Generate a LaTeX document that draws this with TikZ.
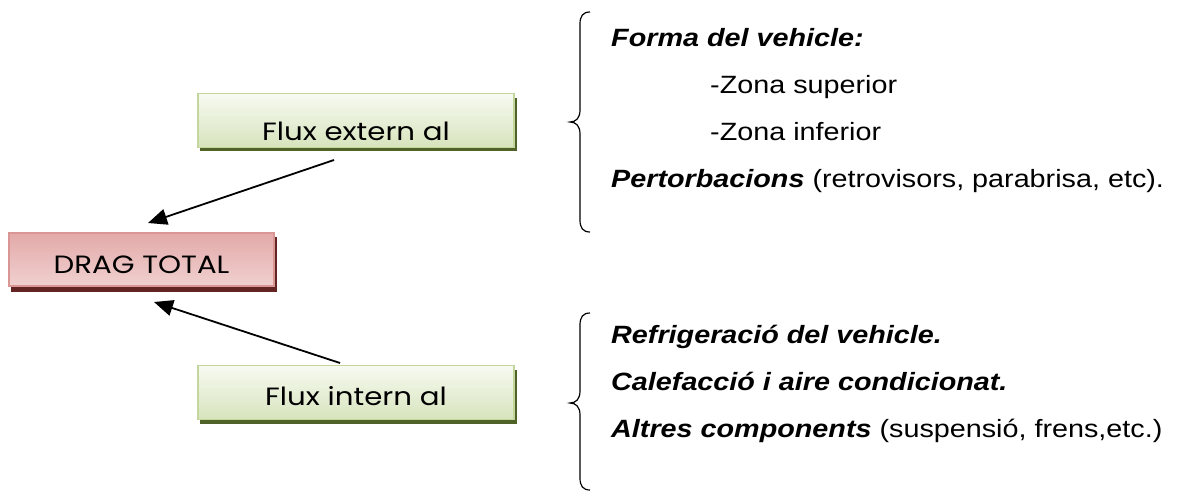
\documentclass[tikz,border=0pt]{standalone}
\usepackage{fontspec}
\setmainfont{Liberation Sans}[FakeStretch=1.15]
\newfontfamily\boxfont{Poppins}[FakeStretch=1.17]
\usetikzlibrary{arrows.meta}
\definecolor{grnborder}{HTML}{C3D69B}
\definecolor{grntop}{HTML}{F7FAF1}
\definecolor{grnbot}{HTML}{D7E4BD}
\definecolor{grnshadow}{HTML}{4F6228}
\definecolor{pinkborder}{HTML}{D99694}
\definecolor{pinktop}{HTML}{E2AAA9}
\definecolor{pinkbot}{HTML}{F0D0CF}
\definecolor{pinkshadow}{HTML}{632523}
\tikzset{
  greenbox/.style={draw=grnborder, line width=1.6pt, top color=grntop, bottom color=grnbot,
    minimum width=316pt, minimum height=54pt, inner sep=0pt},
  pinkbox/.style={draw=pinkborder, line width=1.6pt, top color=pinktop, bottom color=pinkbot,
    minimum width=265pt, minimum height=53pt, inner sep=0pt},
  boxtext/.style={font=\boxfont\fontsize{25}{28}\selectfont, anchor=base, inner sep=0pt},
  rtext/.style={font=\fontsize{25}{28}\selectfont, anchor=base west, inner sep=0pt},
  arr/.style={line width=1.8pt, -{Triangle[length=19pt,width=16pt]}},
  brace/.style={line width=1.2pt}
}
\begin{document}
\begin{tikzpicture}[x=1pt,y=-1pt]
\useasboundingbox (0,0) rectangle (1177,490);
% shadows
\fill[grnshadow] (200,98) rectangle (517,151);
\fill[grnshadow] (200,370) rectangle (517,424);
\fill[pinkshadow] (11,237) rectangle (277,292);
% boxes
\node[greenbox] (ext) at (356,120.5) {};
\node[greenbox] (int) at (356,392.5) {};
\node[pinkbox] (drag) at (141.5,259.5) {};
\node[boxtext] (extt) at (356,140) {Flux extern al};
\node[boxtext] (intt) at (356,405) {Flux intern al};
\node[boxtext] (dragt) at (141.5,273) {DRAG TOTAL};
% arrows
\coordinate (a1s) at (334,160);
\coordinate (a1e) at (148,223);
\coordinate (a2s) at (340,363);
\coordinate (a2e) at (154,302);
\draw[arr] (a1s) -- (a1e);
\draw[arr] (a2s) -- (a2e);
% braces
\draw[brace] (590,12) .. controls (583,12) and (580,16) .. (580,24) -- (580,110)
  .. controls (580,118) and (576,122) .. (570,122)
  .. controls (576,122) and (580,126) .. (580,134) -- (580,220)
  .. controls (580,228) and (583,232) .. (590,232);
\draw[brace] (590,313) .. controls (583,313) and (580,317) .. (580,325) -- (580,391)
  .. controls (580,399) and (576,403) .. (570,403)
  .. controls (576,403) and (580,407) .. (580,415) -- (580,478)
  .. controls (580,486) and (583,490) .. (590,490);
% right texts
\node[rtext] (t1) at (611,46) {\textbf{\textit{Forma del vehicle:}}};
\node[rtext] (t2) at (710,93) {-Zona superior};
\node[rtext] (t3) at (710,140) {-Zona inferior};
\node[rtext] (t4) at (611,187) {\textbf{\textit{Pertorbacions}} (retrovisors, parabrisa, etc).};
\node[rtext] (t5) at (611,343) {\textbf{\textit{Refrigeració del vehicle.}}};
\node[rtext] (t6) at (611,390) {\textbf{\textit{Calefacció i aire condicionat.}}};
\node[rtext] (t7) at (611,437) {\textbf{\textit{Altres components}} (suspensió, frens,etc.)};
\end{tikzpicture}
\end{document}
